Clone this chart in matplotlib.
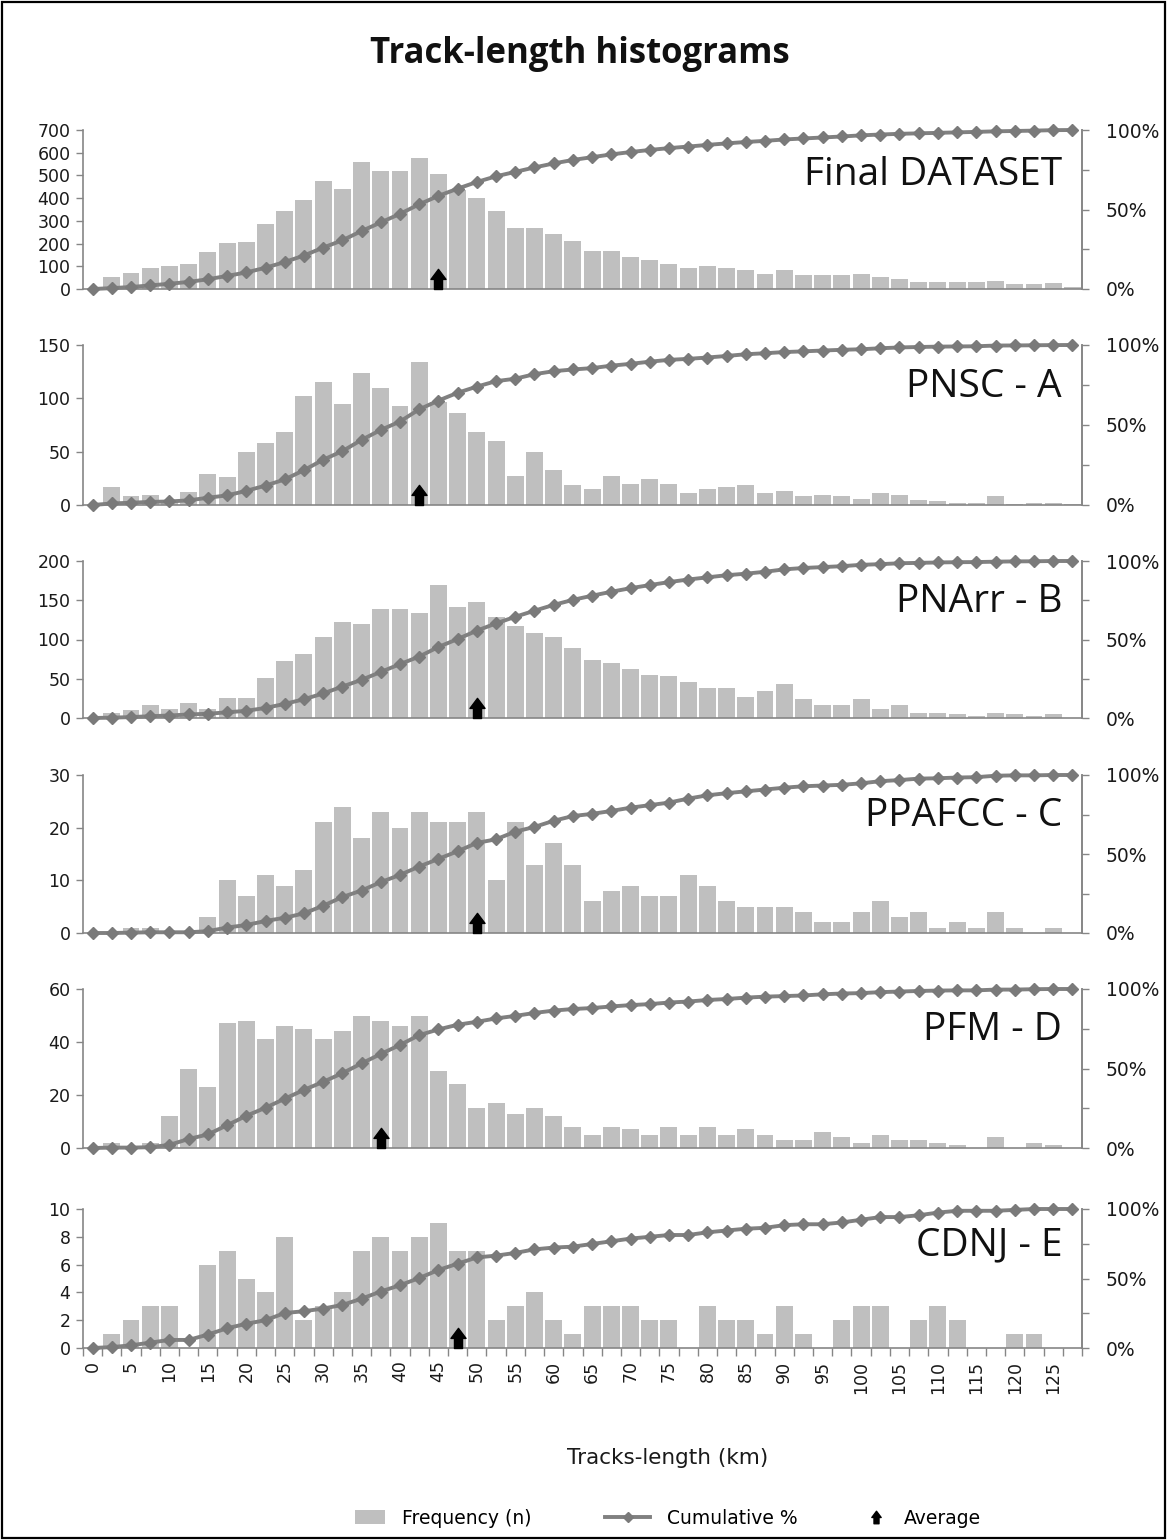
# -*- coding: utf-8 -*-
# Track-length histograms: 6 stacked panels, bars + cumulative % + average arrow

import numpy as np
import matplotlib
matplotlib.use('Agg')
import matplotlib.pyplot as plt
from matplotlib.path import Path
from matplotlib.patches import Patch, Rectangle
from matplotlib.lines import Line2D
from matplotlib.ticker import MultipleLocator, FixedLocator

'''data read off the picture'''
km_bins = [0, 2.5, 5, 7.5, 10, 12.5, 15, 17.5, 20, 22.5, 25, 27.5, 30, 32.5, 35, 37.5,
           40, 42.5, 45, 47.5, 50, 52.5, 55, 57.5, 60, 62.5, 65, 67.5, 70, 72.5, 75, 77.5,
           80, 82.5, 85, 87.5, 90, 92.5, 95, 97.5, 100, 102.5, 105, 107.5, 110, 112.5,
           115, 117.5, 120, 122.5, 125, 127.5]

final_dataset = [0, 52, 69, 94, 102, 110, 161, 202, 209, 286, 343, 393, 477, 442, 560, 519,
                 519, 576, 508, 438, 402, 343, 267, 267, 243, 211, 167, 167, 142, 128, 109, 94,
                 101, 92, 84, 68, 84, 60, 60, 60, 68, 51, 43, 29, 29, 29, 29, 34, 21, 21, 28, 10]
pnsc_a = [0, 17, 8, 9, 5, 12, 29, 26, 50, 58, 68, 102, 115, 95, 124, 110, 93, 134, 97, 86,
          68, 60, 27, 50, 33, 19, 15, 27, 20, 24, 20, 11, 15, 17, 19, 11, 13, 8, 9, 8, 6, 11,
          9, 5, 4, 2, 2, 8, 1, 2, 2, 1]
pnarr_b = [0, 6, 10, 16, 12, 19, 12, 26, 26, 51, 72, 82, 103, 122, 120, 139, 139, 134, 170,
           141, 148, 129, 117, 108, 103, 89, 74, 70, 63, 55, 53, 46, 38, 38, 27, 34, 43, 24,
           16, 16, 24, 12, 16, 7, 7, 5, 2, 7, 5, 2, 5, 0]
ppafcc_c = [0, 0, 1, 1, 0, 0, 3, 10, 7, 11, 9, 12, 21, 24, 18, 23, 20, 23, 21, 21, 23, 10, 21,
            13, 17, 13, 6, 8, 9, 7, 7, 11, 9, 6, 5, 5, 5, 4, 2, 2, 4, 6, 3, 4, 1, 2, 1, 4, 1,
            0, 1, 0]
pfm_d = [0, 2, 0, 2, 12, 30, 23, 47, 48, 41, 46, 45, 41, 44, 50, 48, 46, 50, 29, 24, 15, 17,
         13, 15, 12, 8, 5, 8, 7, 5, 8, 5, 8, 5, 7, 5, 3, 3, 6, 4, 2, 5, 3, 3, 2, 1, 0, 4, 0, 2,
         1, 0]
cdnj_e = [0, 1, 2, 3, 3, 0, 6, 7, 5, 4, 8, 2, 3, 4, 7, 8, 7, 8, 9, 7, 7, 2, 3, 4, 2, 1, 3, 3,
          3, 2, 2, 0, 3, 2, 2, 1, 3, 1, 0, 2, 3, 3, 0, 2, 3, 2, 0, 0, 1, 1, 0, 0]

panel_names = ['Final DATASET', 'PNSC - A', 'PNArr - B', 'PPAFCC - C', 'PFM - D', 'CDNJ - E']
panel_data = [final_dataset, pnsc_a, pnarr_b, ppafcc_c, pfm_d, cdnj_e]
average_km = [45, 42.5, 50, 50, 37.5, 47.5]
y_max = [700, 150, 200, 30, 60, 10]
y_step = [100, 50, 50, 10, 20, 2]

'''styles'''
bar_color = '#bfbfbf'
line_color = '#808080'
axis_color = '#868686'
text_color = '#1a1a1a'

W, H = 1167, 1540
# panel boxes in pixels (top, bottom)
panel_px = [(130, 289), (345, 505), (561, 718), (775, 933), (989, 1148), (1209, 1348)]
x_left, x_right = 83, 1082

# up-arrow marker, base at the anchor point
arrow_path = Path([(-7.5, 10), (0, 20), (7.5, 10), (4, 10), (4, 0), (-4, 0), (-4, 10), (-7.5, 10)],
                  closed=True)
# same arrow centred on its anchor, for the legend
arrow_legend = Path([(-7.5, 0), (0, 10), (7.5, 0), (4, 0), (4, -10), (-4, -10), (-4, 0), (-7.5, 0)],
                    closed=True)

fig = plt.figure(figsize=(W / 100, H / 100), dpi=100)
fig.patch.set_facecolor('white')

x = np.array(km_bins)
half = 1.25

for k in range(6):
    top, bot = panel_px[k]
    ax = fig.add_axes([x_left / W, 1 - bot / H, (x_right - x_left) / W, (bot - top) / H])
    vals = np.array(panel_data[k], dtype=float)
    cum = np.cumsum(vals) / vals.sum()

    ax.bar(x, vals, width=2.5 * 0.88, color=bar_color, edgecolor='none', zorder=2)
    ax.plot([average_km[k]], [0], marker=arrow_path, markersize=29, color='black',
            linestyle='none', clip_on=False, zorder=6)

    ax.set_xlim(x[0] - half, x[-1] + half)
    ax.set_ylim(0, y_max[k])
    ax.yaxis.set_major_locator(MultipleLocator(y_step[k]))

    ax.spines['top'].set_visible(False)
    for s in ['left', 'bottom', 'right']:
        ax.spines[s].set_color(axis_color)
        ax.spines[s].set_linewidth(1.2)
    ax.tick_params(axis='y', direction='out', length=5, width=1, color=axis_color,
                   labelsize=12.5, labelcolor=text_color, pad=4)

    if k < 5:
        ax.tick_params(axis='x', length=0, labelbottom=False)
    else:
        ax.set_xticks(x[::2])
        ax.set_xticklabels([str(int(v)) for v in x[::2]], rotation=90)
        ax.xaxis.set_minor_locator(FixedLocator(np.append(x - half, x[-1] + half)))
        ax.tick_params(axis='x', which='major', length=0, pad=9, labelsize=12.5,
                       labelcolor=text_color)
        ax.tick_params(axis='x', which='minor', direction='out', length=6, width=1,
                       color=axis_color)

    # cumulative % on the secondary axis
    ax2 = ax.twinx()
    ax2.plot(x, cum, color=line_color, linewidth=2.8, marker='D', markersize=6,
             markerfacecolor='#7a7a7a', markeredgecolor='#7a7a7a', zorder=5, clip_on=False)
    ax2.set_ylim(0, 1)
    ax2.set_yticks([0, 0.25, 0.5, 0.75, 1])
    ax2.set_yticklabels(['0%', '', '50%', '', '100%'])
    ax2.spines['top'].set_visible(False)
    ax2.spines['left'].set_visible(False)
    ax2.spines['bottom'].set_visible(False)
    ax2.spines['right'].set_color(axis_color)
    ax2.spines['right'].set_linewidth(1.2)
    ax2.tick_params(axis='y', direction='out', length=5, width=1, color=axis_color,
                    labelsize=13.5, labelcolor=text_color, pad=12)

    ax2.text(0.98, 0.72 if k == 0 else 0.74, panel_names[k], transform=ax2.transAxes,
             ha='right', va='center', fontsize=28, family='Open Sans', color='#111111')

# title, axis label
fig.text(0.497, 1 - 54 / H, 'Track-length histograms', ha='center', va='center',
         fontsize=25, fontweight='bold', family='Open Sans', color='#111111')
fig.text(668 / W, 1 - 1458 / H, 'Tracks-length (km)', ha='center', va='center',
         fontsize=15.5, color=text_color)

# legend: three separate entries placed like the reference
legend_items = [
    (Patch(facecolor=bar_color, edgecolor='none'), 'Frequency (n)', 355, 1.6),
    (Line2D([], [], color=line_color, linewidth=2.8, marker='D', markersize=5,
            markerfacecolor='#7a7a7a', markeredgecolor='#7a7a7a'), 'Cumulative %', 605, 2.4),
    (Line2D([], [], marker=arrow_legend, markersize=9, color='black', linestyle='none'),
     'Average', 866, 1.1),
]
for handle, label, x0, hl in legend_items:
    fig.legend([handle], [label], loc='center left', bbox_to_anchor=(x0 / W, 1 - 1518 / H),
               frameon=False, fontsize=13.5, handlelength=hl, handletextpad=0.9,
               borderpad=0, borderaxespad=0)

# outer frame
fig.patches.append(Rectangle((0.0015, 0.001), 0.997, 0.998, transform=fig.transFigure,
                             fill=False, edgecolor='black', linewidth=1.6))

plt.savefig('out.png', dpi=100)
